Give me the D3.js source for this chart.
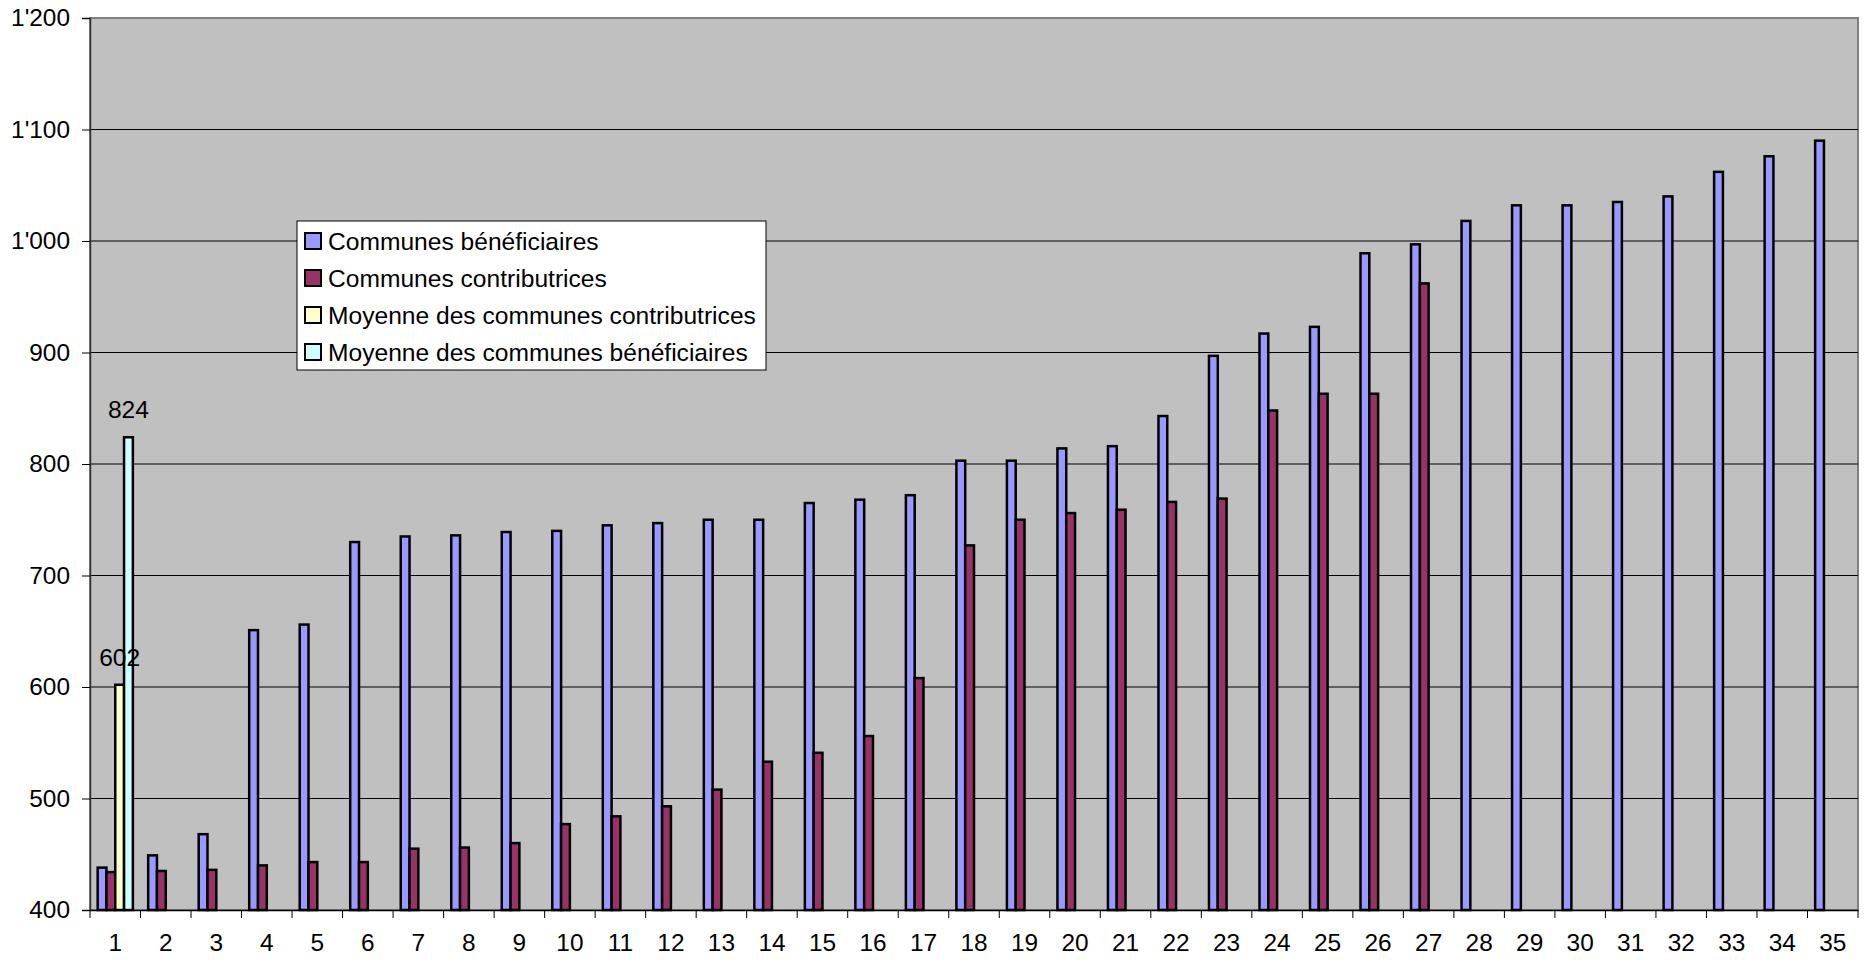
<!DOCTYPE html>
<html>
<head>
<meta charset="utf-8">
<script src="https://cdn.jsdelivr.net/npm/d3@7"></script>
<style>
  body { margin: 0; background: #fff; }
  text { font-family: "Liberation Sans", Arial, sans-serif; font-size: 24.6px; fill: #000; }
</style>
</head>
<body>
<div class="chart"></div>
<script>
const categories = d3.range(1, 36).map(String)
const seriesNames = [
  'Communes bénéficiaires', 'Communes contributrices',
  'Moyenne des communes contributrices', 'Moyenne des communes bénéficiaires'
]
const seriesColors = ['#9999ff', '#993366', '#ffffcc', '#ccffff']

const beneficiaires = [
  438, 449, 468, 651, 656, 730, 735, 736, 739, 740, 745, 747, 750, 750, 765, 768, 772, 803, 803, 814,
  816, 843, 897, 917, 923, 989, 997, 1018, 1032, 1032, 1035, 1040, 1062, 1076, 1090
]
const contributrices = [
  434, 435, 436, 440, 443, 443, 455, 456, 460, 477, 484, 493, 508, 533, 541, 556, 608, 727, 750, 756,
  759, 766, 769, 848, 863, 863, 962
]
const moyenneContrib = [602]
const moyenneBenef = [824]
const yTicks = [400, 500, 600, 700, 800, 900, 1000, 1100, 1200]

const allSeries = [beneficiaires, contributrices, moyenneContrib, moyenneBenef]

createChart()

function createChart() {
  const width = 1866, height = 960
  const left = 90, right = 1858, top = 18, bottom = 910

  const svg = d3.select('.chart').append('svg')
    .attr('width', width).attr('height', height)

  const x0 = d3.scaleBand().domain(categories).range([left, right])
  const x1 = d3.scaleBand().domain(d3.range(4)).range([0, x0.bandwidth()]).paddingOuter(0.87)
  const y = d3.scaleLinear().domain([400, 1200]).range([bottom, top])

  const fmt = d3.formatLocale({ decimal: '.', thousands: "'", grouping: [3], currency: ['', ''] }).format(',')

  svg.append('rect')
    .attr('x', left).attr('y', top)
    .attr('width', right - left).attr('height', bottom - top)
    .attr('fill', '#c0c0c0').attr('stroke', '#808080').attr('stroke-width', 2)

  // gridlines
  svg.append('g').selectAll('line')
    .data(yTicks.slice(1, -1))
    .enter().append('line')
    .attr('x1', left).attr('x2', right)
    .attr('y1', d => y(d)).attr('y2', d => y(d))
    .attr('stroke', '#000').attr('stroke-width', 1)

  // bars
  allSeries.forEach((vals, s) => {
    svg.append('g').selectAll('rect')
      .data(vals)
      .enter().append('rect')
      .attr('x', (d, i) => x0(categories[i]) + x1(s))
      .attr('y', d => y(d))
      .attr('width', x1.bandwidth())
      .attr('height', d => y(400) - y(d))
      .attr('fill', seriesColors[s])
      .attr('stroke', '#000').attr('stroke-width', 2.5)
  })

  // data labels on the averages
  ;[2, 3].forEach(s => {
    svg.append('text')
      .attr('x', x0(categories[0]) + x1(s) + x1.bandwidth() / 2)
      .attr('y', y(allSeries[s][0]) - 19)
      .attr('text-anchor', 'middle')
      .text(allSeries[s][0])
  })

  // y axis
  const yAxis = svg.append('g')
    .attr('transform', `translate(${left},0)`)
    .call(d3.axisLeft(y).tickValues(yTicks).tickSize(8).tickPadding(12).tickFormat(fmt))
  yAxis.select('.domain').attr('stroke', '#333').attr('stroke-width', 1.5)
  yAxis.selectAll('text').style('font-size', '24.4px').attr('fill', '#000')

  // x axis
  const xAxis = svg.append('g')
    .attr('transform', `translate(0,${bottom})`)
    .call(d3.axisBottom(x0).tickSize(0).tickPadding(24))
  xAxis.select('.domain').attr('stroke', '#000').attr('stroke-width', 1.5)
  xAxis.selectAll('text').style('font-size', '24.4px').attr('fill', '#000')
  xAxis.selectAll('line.sep')
    .data(categories.concat(['end']))
    .enter().append('line').attr('class', 'sep')
    .attr('x1', (d, i) => left + i * x0.step()).attr('x2', (d, i) => left + i * x0.step())
    .attr('y1', 0).attr('y2', 8)
    .attr('stroke', '#000')

  // legend
  const legend = svg.append('g').attr('transform', 'translate(297,221)')
  legend.append('rect')
    .attr('width', 469).attr('height', 149)
    .attr('fill', '#fff').attr('stroke', '#000').attr('stroke-width', 1)
  const item = legend.selectAll('g.item')
    .data(seriesNames)
    .enter().append('g').attr('class', 'item')
    .attr('transform', (d, i) => `translate(0,${20 + i * 37})`)
  item.append('rect')
    .attr('x', 8).attr('y', -8).attr('width', 16).attr('height', 16)
    .attr('fill', (d, i) => seriesColors[i])
    .attr('stroke', '#000').attr('stroke-width', 2)
  item.append('text')
    .attr('x', 31).attr('dy', '0.35em')
    .text(d => d)
}
</script>
</body>
</html>
